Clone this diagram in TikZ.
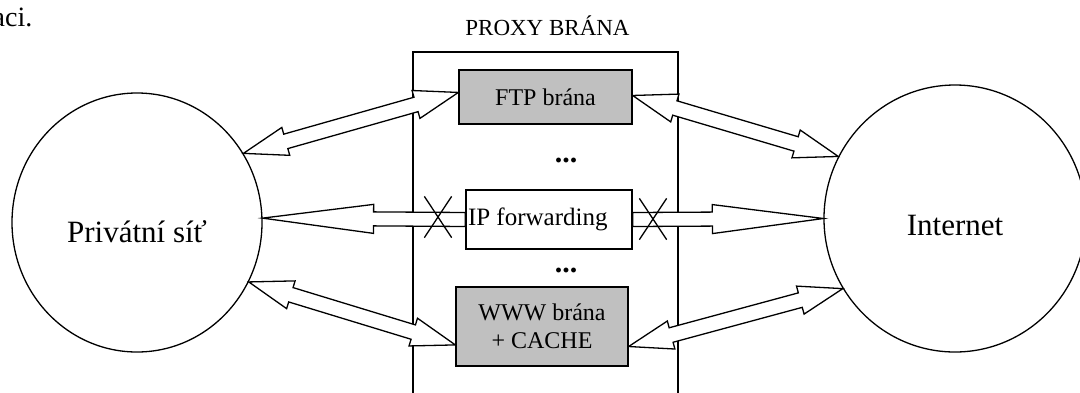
\documentclass[tikz,border=0pt]{standalone}
\usepackage{fontspec}
\setmainfont{Liberation Serif}
\usetikzlibrary{calc,shapes.geometric,shapes.misc}
\definecolor{boxgray}{RGB}{192,192,192}
% measure direction and length from #1 to #2
\newcommand{\fatmeasure}[2]{%
  \path let \p1=($(#2)-(#1)$) in
    \pgfextra{\pgfmathsetmacro{\fattmpa}{atan2(\y1,\x1)}\pgfmathsetmacro{\fattmpl}{veclen(\x1,\y1)}%
      \xdef\fatA{\fattmpa}\xdef\fatL{\fattmpl}};}
% double-headed hollow block arrow: start, end, head length, head half width, shaft half width
\newcommand{\fatdouble}[5]{%
  \fatmeasure{#1}{#2}%
  \begin{scope}[shift={(#1)},rotate=\fatA]
    \draw[fat] (0pt,0pt) -- (#3,#4) -- (#3,#5) -- (\fatL pt-#3,#5) -- (\fatL pt-#3,#4)
      -- (\fatL pt,0pt) -- (\fatL pt-#3,-#4) -- (\fatL pt-#3,-#5) -- (#3,-#5) -- (#3,-#4) -- cycle;
  \end{scope}}
% single-headed hollow block arrow: tip, open start, head length, head half width, shaft half width
\newcommand{\fatsingle}[5]{%
  \fatmeasure{#1}{#2}%
  \begin{scope}[shift={(#1)},rotate=\fatA]
    \draw[fat] (0pt,0pt) -- (#3,#4) -- (#3,#5) -- (\fatL pt,#5) -- (\fatL pt,-#5)
      -- (#3,-#5) -- (#3,-#4) -- cycle;
  \end{scope}}
\begin{document}
\begin{tikzpicture}[x=1pt,y=-1pt,line width=1.3pt,
  box/.style={draw,line width=1.3pt,inner sep=0pt,align=center,font=\fontsize{24}{27.6}\selectfont},
  gbox/.style={box,fill=boxgray},
  net/.style={draw,ellipse,inner sep=0pt,line width=1.3pt},
  netlabel/.style={font=\fontsize{31}{36}\selectfont},
  fat/.style={draw,fill=white,line width=1.3pt,line join=miter,miter limit=20},
  xmark/.style={draw,cross out,inner sep=0pt,line width=1.3pt,minimum width=26pt,minimum height=40pt},
  dots/.style={font=\fontsize{30}{30}\selectfont\bfseries,inner sep=0pt}]
\clip (0,0) rectangle (1080,392);
\fill[white] (0,0) rectangle (1080,392);

% fragment of preceding text
\node[anchor=base east,inner sep=0pt,font=\fontsize{28}{30}\selectfont] (frag) at (33,26) {aci.};

% proxy gateway frame
\node[font=\fontsize{23}{26}\selectfont,inner sep=0pt] (ptitle) at (547.5,25.5) {PROXY BRÁNA};
\draw (413,400) -- (413,52) -- (678,52) -- (678,400);

% networks
\node[net,minimum width=250pt,minimum height=259pt,
      label={[netlabel,yshift=-9pt]center:Privátní síť}] (priv) at (137,222.5) {};
\node[net,minimum width=262pt,minimum height=267pt,
      label={[netlabel,yshift=-7pt]center:Internet}] (inet) at (955,218.5) {};

% boxes (placed first so arrows can refer to them; redrawn on top later)
\path (545.5,97) node[gbox,minimum width=173pt,minimum height=54pt] (ftp) {};
\path (549,219.5) node[box,minimum width=166pt,minimum height=59pt] (ipf) {};
\path (542,326.5) node[gbox,minimum width=172pt,minimum height=79pt] (www) {};

% arrows
\fatdouble{priv.33}{ftp.177}{44pt}{14.5pt}{7.5pt}
\fatdouble{ftp.1}{inet.152}{44pt}{14.5pt}{7.5pt}
\fatdouble{priv.-28}{www.192}{44pt}{14.5pt}{7.5pt}
\fatdouble{www.-13}{inet.212}{44pt}{14.5pt}{7.5pt}
\fatsingle{priv.2}{ipf.west}{111pt}{14.5pt}{7pt}
\fatsingle{inet.180}{ipf.east}{111pt}{14.5pt}{7pt}

% boxes on top
\node[gbox,minimum width=173pt,minimum height=54pt] at (ftp) {FTP brána};
\node[box,minimum width=166pt,minimum height=59pt,inner xsep=2pt,
      font=\fontsize{25}{28}\selectfont] at (ipf) {\makebox[162pt][l]{IP forwarding}};
\node[gbox,minimum width=172pt,minimum height=79pt] at (www) {WWW brána\\+ CACHE};

% blocked marks
\node[xmark] (xl) at (438,217) {};
\node[xmark] (xr) at (653,219) {};

% ellipses
\node[dots] (d1) at (566,160) {...};
\node[dots] (d2) at (566,270) {...};
\end{tikzpicture}
\end{document}
